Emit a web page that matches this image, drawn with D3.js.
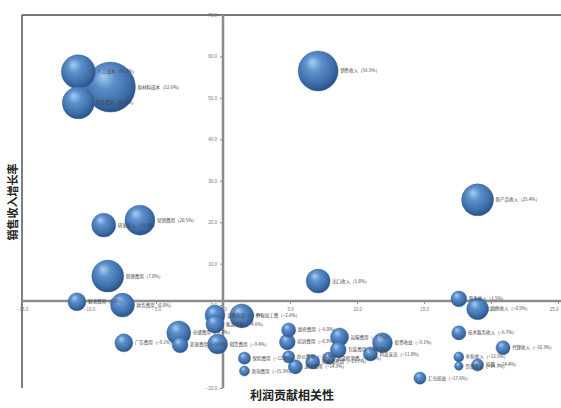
<!DOCTYPE html>
<html>
<head>
<meta charset="utf-8">
<script src="https://cdn.jsdelivr.net/npm/d3@7"></script>
<style>
  body { margin: 0; background: #fff; }
  svg { display: block; font-family: "Noto Sans CJK SC", "Noto Sans", sans-serif; }
</style>
</head>
<body>
<div id="chart"></div>
<script>
// bubble data: name, profit contribution (x), revenue growth (y), size
var names = ['人工成本', '原材料成本', '制造费用', '销售收入', '新产品收入', '研发投入', '营销费用', '管理费用',
  '出口收入', '物流费用', '财务费用', '服务收入', '其他收入', '设备折旧', '能源消耗', '租赁费用',
  '外包加工费', '仓储费用', '差旅费用', '广告费用', '维修费用', '培训费用', '办公费用', '通讯费用',
  '保险费用', '咨询费用', '税金及附加', '运输费用', '包装费用', '质量检测费', '投资收益', '利息支出',
  '汇兑损益', '技术服务收入', '代理收入', '补贴收入', '罚没收入', '捐赠'];
var xVals = [-10.8, -8.4, -10.8, 7.1, 19.0, -8.9, -6.2, -8.6, 7.1, -10.9, -7.5, 17.6, 19.0, -0.6, -0.6, -0.4,
  1.4, -3.3, -3.2, -7.4, 4.9, 4.8, 4.9, 5.4, 1.6, 1.6, 6.7, 8.7, 8.6, 7.9, 11.9, 11.0,
  14.7, 17.6, 20.9, 17.6, 17.6, 19.0];
var yVals = [56.3, 52.6, 48.8, 56.5, 25.4, 19.3, 20.5, 7.0, 5.8, 0.8, 0.0, 1.5, -0.9, -2.4, -4.6, -9.4,
  -2.6, -6.7, -9.6, -9.1, -6.0, -8.9, -12.5, -14.9, -12.8, -15.9, -13.7, -7.7, -10.8, -12.8, -9.1, -11.8,
  -17.6, -6.7, -10.3, -12.5, -14.7, -14.45];
var sizes = [46, 100, 41, 64, 41, 23, 36, 41, 23, 13, 23, 10, 19, 16, 13, 16,
  23, 23, 10, 13, 8, 10, 6, 8, 6, 4, 8, 13, 10, 6, 16, 8,
  6, 8, 8, 4, 3, 6];

var xTicks = [-15, -10, -5, 0, 5, 10, 15, 20, 25];
var yTicks = [-20, -10, 0, 10, 20, 30, 40, 50, 60, 70];
var xCross = 0, yCross = 1;

var xTitle = '利润贡献相关性', yTitle = '销售收入增长率';

var width = 561, height = 408;
var margin = {top: 15, right: 3, bottom: 20, left: 22};
var plotR = width - margin.right, plotB = height - margin.bottom;

var svg = d3.select('#chart').append('svg')
    .attr('width', width)
    .attr('height', height);

var defs = svg.append('defs');
var grad = defs.append('radialGradient')
    .attr('id', 'ball')
    .attr('cx', '45%').attr('cy', '40%').attr('r', '60%')
    .attr('fx', '35%').attr('fy', '28%');
grad.append('stop').attr('offset', '0%').attr('stop-color', '#a9cdf2');
grad.append('stop').attr('offset', '35%').attr('stop-color', '#5b8fcc');
grad.append('stop').attr('offset', '75%').attr('stop-color', '#3f6faa');
grad.append('stop').attr('offset', '100%').attr('stop-color', '#2b5186');

var x = d3.scaleLinear().domain([-15, 25]).range([margin.left, plotR]);
var y = d3.scaleLinear().domain([-20, 70]).range([plotB, margin.top]);
var r = d3.scaleSqrt().domain([0, d3.max(sizes)]).range([0, 25]);

// frame (top + left)
svg.append('line').attr('x1', margin.left).attr('x2', width).attr('y1', margin.top).attr('y2', margin.top)
    .attr('stroke', '#4a4a4a').attr('stroke-width', 1.5);
svg.append('line').attr('x1', margin.left).attr('x2', margin.left).attr('y1', margin.top).attr('y2', plotB)
    .attr('stroke', '#555').attr('stroke-width', 1.5);

var fmt = d3.format('.1f');

var gx = svg.append('g')
    .attr('transform', 'translate(0,' + y(yCross) + ')')
    .call(d3.axisBottom(x).tickValues(xTicks).tickFormat(fmt).tickSize(3).tickSizeOuter(0));
var gy = svg.append('g')
    .attr('transform', 'translate(' + x(xCross) + ',0)')
    .call(d3.axisLeft(y).tickValues(yTicks).tickFormat(fmt).tickSize(3).tickSizeOuter(0));

[gx, gy].forEach(function(g) {
  g.select('.domain').attr('stroke', '#8c8c8c').attr('stroke-width', 2.5);
  g.selectAll('.tick line').attr('stroke', '#8c8c8c');
  g.selectAll('.tick text').attr('fill', '#777').attr('font-size', 4.5);
});
gx.select('.domain').attr('d', 'M' + margin.left + ',0H' + width);
gy.select('.domain').attr('d', 'M0,' + margin.top + 'V' + plotB);
gx.selectAll('.tick text').attr('dy', '0.9em');
// keep the last x label inside the picture
gx.selectAll('.tick text').filter(function(d) { return d === xTicks[xTicks.length - 1]; })
    .attr('text-anchor', 'end');

var data = names.map(function(n, i) {
  return {name: n, x: xVals[i], y: yVals[i], size: sizes[i]};
});

var nodes = svg.append('g').selectAll('g')
    .data(data.slice().sort(function(a, b) { return b.size - a.size; }))
    .enter().append('g');

nodes.append('circle')
    .attr('cx', function(d) { return x(d.x); })
    .attr('cy', function(d) { return y(d.y); })
    .attr('r', function(d) { return r(d.size); })
    .attr('fill', 'url(#ball)')
    .attr('stroke', '#35639b')
    .attr('stroke-width', 0.4);

svg.append('g').selectAll('text')
    .data(data)
    .enter().append('text')
    .attr('x', function(d) { return x(d.x) + r(d.size) + 2; })
    .attr('y', function(d) { return y(d.y) + 1.5; })
    .attr('font-size', 4.5)
    .attr('fill', '#444')
    .text(function(d) { return d.name + '（' + fmt(d.y) + '%）'; });

svg.append('text')
    .attr('x', 292).attr('y', 400)
    .attr('text-anchor', 'middle')
    .attr('font-size', 12)
    .attr('font-weight', 'bold')
    .attr('fill', '#222')
    .text(xTitle);

svg.append('text')
    .attr('transform', 'translate(17,202) rotate(-90)')
    .attr('text-anchor', 'middle')
    .attr('font-size', 11)
    .attr('font-weight', 'bold')
    .attr('fill', '#222')
    .text(yTitle);
</script>
</body>
</html>
